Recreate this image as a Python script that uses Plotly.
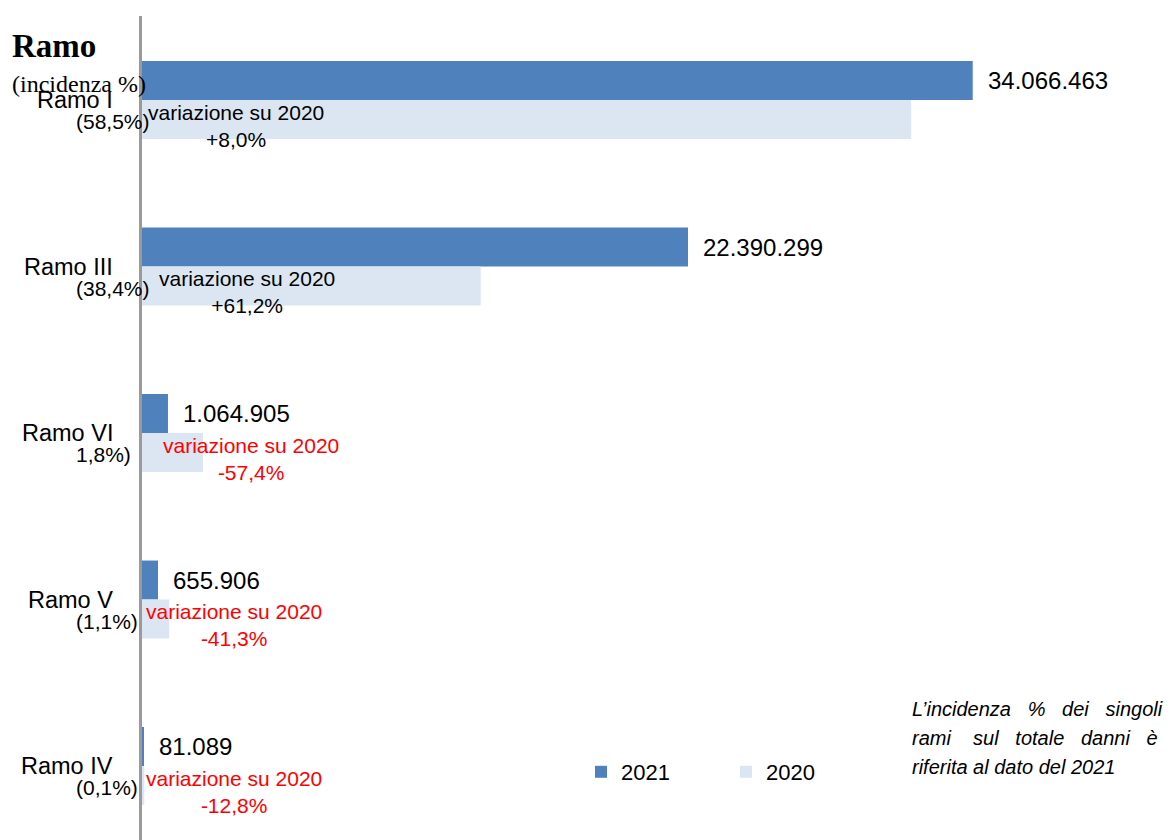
import plotly.graph_objects as go

# ---- data ----
categories = ["Ramo I", "Ramo III", "Ramo VI", "Ramo V", "Ramo IV"]
shares = ["(58,5%)", "(38,4%)", "1,8%)", "(1,1%)", "(0,1%)"]
values_2021 = [34066463, 22390299, 1064905, 655906, 81089]
values_2020 = [31543000, 13890000, 2500000, 1117000, 93000]
labels_2021 = ["34.066.463", "22.390.299", "1.064.905", "655.906", "81.089"]
variations = ["+8,0%", "+61,2%", "-57,4%", "-41,3%", "-12,8%"]

# ---- styling / layout constants ----
C2021 = "#4F81BD"
C2020 = "#DCE6F2"
SANS = "Liberation Sans, Arial, sans-serif"
SERIF = "Liberation Serif, Times New Roman, serif"
var_offsets = [94, 105, 109, 92, 92]  # px from axis to center of variation note

W, H = 1173, 840
L, T = 134, 8
PW, PH = W - L, H - T


def px(xs):  # page x (pixels) -> paper x
    return (xs - 8 - L) / PW


def py(ys):  # page y (pixels) -> paper y
    return (H - (ys - 8)) / PH


fig = go.Figure()
fig.add_trace(go.Bar(name="2021", y=categories, x=values_2021, orientation="h",
                     marker=dict(color=C2021, line=dict(width=0))))
fig.add_trace(go.Bar(name="2020", y=categories, x=values_2020, orientation="h",
                     marker=dict(color=C2020, line=dict(width=0))))

ann = []
for i, cat in enumerate(categories):
    ann.append(dict(xref="x", yref="y", x=0, y=cat, text=cat, showarrow=False,
                    xanchor="right", yanchor="middle", xshift=-27, yshift=0,
                    font=dict(family=SANS, size=23.5, color="#000000")))
    ann.append(dict(xref="x", yref="y", x=0, y=cat, text=shares[i], showarrow=False,
                    xanchor="left", yanchor="middle", xshift=-68, yshift=-21.5,
                    font=dict(family=SANS, size=21, color="#000000")))
    ann.append(dict(xref="x", yref="y", x=values_2021[i], y=cat, text=labels_2021[i],
                    showarrow=False, xanchor="left", yanchor="middle",
                    xshift=13, yshift=19.5,
                    font=dict(family=SANS, size=24, color="#000000")))
    col = "#FF0000" if variations[i].startswith("-") else "#000000"
    ann.append(dict(xref="x", yref="y", x=0, y=cat,
                    text="variazione su 2020<br>" + variations[i],
                    showarrow=False, xanchor="center", yanchor="middle",
                    xshift=var_offsets[i], yshift=-25.5,
                    font=dict(family=SANS, size=21, color=col)))

# title
ann.append(dict(xref="paper", yref="paper", x=px(10), y=py(46), text="<b>Ramo</b>",
                showarrow=False, xanchor="left", yanchor="middle",
                font=dict(family=SERIF, size=33, color="#000000")))
ann.append(dict(xref="paper", yref="paper", x=px(10), y=py(84), text="(incidenza %)",
                showarrow=False, xanchor="left", yanchor="middle",
                font=dict(family=SERIF, size=24, color="#000000")))

# side note (justified look)
NB = "\u00a0"
note_lines = [
    "L’incidenza" + NB * 3 + "%" + NB * 3 + "dei" + NB * 3 + "singoli",
    "rami" + NB * 4 + "sul" + NB * 3 + "totale" + NB * 3 + "danni" + NB * 3 + "è",
    "riferita al dato del 2021",
]
note_y = [709, 738, 767]
for line, yy in zip(note_lines, note_y):
    ann.append(dict(xref="paper", yref="paper", x=px(910), y=py(yy),
                    text="<i>" + line + "</i>", showarrow=False,
                    xanchor="left", yanchor="middle",
                    font=dict(family=SANS, size=20, color="#000000")))

fig.update_layout(
    width=W, height=H,
    margin=dict(l=L, r=0, t=T, b=0),
    paper_bgcolor="white", plot_bgcolor="white",
    barmode="group", bargap=0.532, bargroupgap=0,
    showlegend=True,
    legend=dict(orientation="h", x=px(581), y=py(772),
                xanchor="left", yanchor="middle",
                font=dict(family=SANS, size=22, color="#000000"),
                entrywidth=100, entrywidthmode="pixels",
                bgcolor="rgba(0,0,0,0)", traceorder="normal"),
    xaxis=dict(range=[0, PW / 24.385 * 1e6], visible=False, showgrid=False,
               zeroline=False),
    yaxis=dict(range=[-0.5045 + PH / 166.5, -0.5045], showticklabels=False, ticks="",
               showgrid=False, zeroline=False, showline=True,
               linecolor="#9a9a9a", linewidth=3),
    annotations=ann,
)

fig.write_html("out.html")
